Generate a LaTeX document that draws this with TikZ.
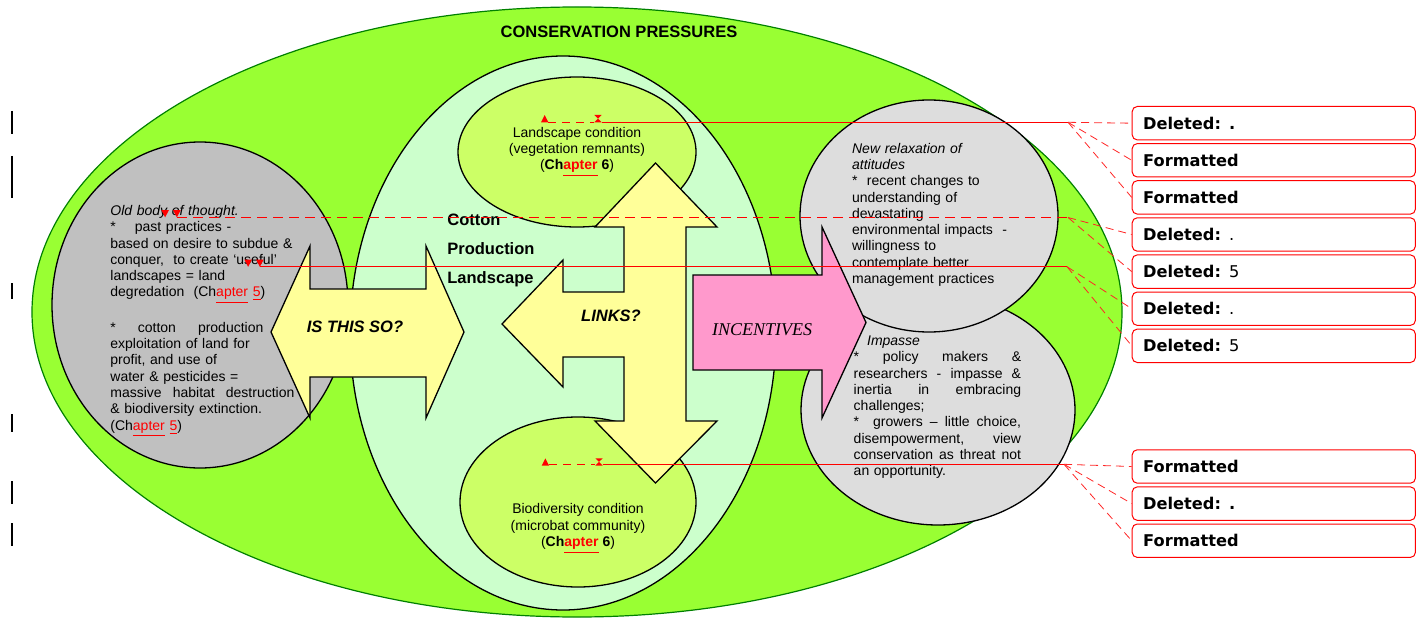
\documentclass[tikz,border=0pt]{standalone}
\usepackage{fontspec}
\setmainfont{Liberation Sans}
\newfontfamily\incfont{Liberation Serif}
\newfontfamily\tagfont{DejaVu Sans}
\usetikzlibrary{
    positioning, % For the stacked comment boxes
    calc
}

\definecolor{outergreen}{RGB}{153,255,51}
\definecolor{rimgreen}{RGB}{0,128,0}
\definecolor{oldgray}{RGB}{192,192,192}
\definecolor{newgray}{RGB}{221,221,221}
\definecolor{mint}{RGB}{204,255,204}
\definecolor{lime}{RGB}{204,255,102}
\definecolor{paleyellow}{RGB}{255,255,153}
\definecolor{pinkfill}{RGB}{255,153,204}
\definecolor{trackred}{RGB}{255,0,0}

\newcommand{\chref}[1]{\textcolor{red}{\underline{#1}}} % red chapter link
\newcommand{\jline}[2]{\makebox[#1][s]{#2}}             % justified line
\newcommand{\topstrut}{\rule{0pt}{6pt}}

\begin{document}
\begin{tikzpicture}[
    x=0.5pt, y=-0.5pt,
    outline/.style={draw=black, line width=0.65pt},     % Black rims
    arrowbody/.style={outline, fill=paleyellow},         % Yellow block arrows
    bodytext/.style={inner sep=0pt, font=\fontsize{7}{8.15}\selectfont},
    headtext/.style={inner sep=0pt, anchor=base, font=\bfseries\itshape\fontsize{8.25}{10}\selectfont},
    tagbox/.style={draw=red, line width=0.5pt, rounded corners=2.5pt, fill=white,
        text width=130.6pt, inner xsep=5.5pt, inner ysep=0pt, minimum height=16.7pt,
        align=left, font=\tagfont\fontsize{8.1}{9.5}\selectfont},
    trackline/.style={draw=trackred, line width=0.5pt},  % Solid change line
    trackdash/.style={draw=trackred, line width=0.9pt, dash pattern=on 5pt off 3pt},
    fanline/.style={draw=red!85, line width=0.4pt, dash pattern=on 4pt off 2.5pt},
    node distance=1.35pt
]
    \useasboundingbox (0,0) rectangle (1416,620);

    % Change bars in the margin
    \foreach \a/\b in {111/134, 156/198, 283/299, 414/432, 481/504, 523/546}
        \draw[line width=1pt] (12,\a) -- (12,\b);

    % Outer ellipse
    \draw[draw=rimgreen, fill=outergreen, line width=0.6pt] (577,312) ellipse [x radius=545, y radius=305];
    \node[inner sep=0pt, anchor=base, font=\bfseries\fontsize{8.25}{10}\selectfont] (title) at (619,37.7) {CONSERVATION PRESSURES};

    % Inner ellipses
    \draw[outline, fill=oldgray] (200,305) ellipse [x radius=148, y radius=163];
    \draw[outline, fill=mint] (563,333) ellipse [x radius=213, y radius=277];
    \draw[outline, fill=lime] (577,152) ellipse [x radius=119, y radius=75];
    \draw[outline, fill=lime] (578,502) ellipse [x radius=118, y radius=85];
    \draw[outline, fill=newgray] (938,410) ellipse [x radius=137, y radius=115];
    \draw[outline, fill=newgray] (929,216) ellipse [x radius=129, y radius=116];

    % Block arrows
    \draw[arrowbody] (271,332) -- (310,246) -- (310,289) -- (426,289) -- (426,246) -- (464,332)
        -- (426,418) -- (426,377) -- (310,377) -- (310,418) -- cycle;
    \draw[arrowbody] (655.5,163) -- (717,227) -- (686,227) -- (686,421) -- (717,421) -- (655.5,483)
        -- (595,421) -- (624,421) -- (624,357) -- (563,357) -- (563,387) -- (502,324)
        -- (563,260) -- (563,292) -- (624,292) -- (624,227) -- (595,227) -- cycle;
    \draw[outline, fill=pinkfill] (693,275) -- (822,275) -- (822,227) -- (866,322.5)
        -- (822,418) -- (822,370) -- (693,370) -- cycle;

    \node[headtext] (isthisso) at (355,332) {IS THIS SO?};
    \node[headtext] (links) at (611,321.7) {LINKS?};
    \node[inner sep=0pt, anchor=base, font=\incfont\itshape\fontsize{9}{11}\selectfont] (incentives) at (762,335) {INCENTIVES};
    \node[inner sep=0pt, anchor=north west, align=left, font=\bfseries\fontsize{8.25}{14.5}\selectfont] (cpl) at (447,211)
        {\rule{0pt}{7pt}Cotton\\Production\\Landscape};

    % Text of the ellipses
    \node[bodytext, anchor=north west, text width=100pt, align=left] (oldtext) at (110,203) {\topstrut
        \textit{Old body of thought.}\\
        {*}\hspace{9.5pt}past practices -\\
        based on desire to subdue \&\\
        conquer,\ \ to create ‘useful’\\
        landscapes = land\\
        degredation\ \ (Ch\chref{apter} \chref{5})\\[8.15pt]
        \jline{76.5pt}{*\hfill cotton\hfill production}\\
        exploitation of land for\\
        profit, and use of\\
        water \& pesticides =\\
        \jline{92pt}{massive\hfill habitat\hfill destruction}\\
        \& biodiversity extinction.\\
        (Ch\chref{apter} \chref{5})};

    \node[bodytext, anchor=north, align=center] (landcond) at (577,124.7) {\topstrut
        Landscape condition\\(vegetation remnants)\\(\textbf{Ch\chref{apter} 6})};
    \node[bodytext, anchor=north, align=center] (biocond) at (578,501.3) {\topstrut
        Biodiversity condition\\(microbat community)\\(\textbf{Ch\chref{apter} 6})};

    \node[bodytext, anchor=north west, text width=100pt, align=left] (newtext) at (851.7,140.7) {\topstrut
        \textit{New relaxation of}\\
        \textit{attitudes}\\
        {*}\ \ recent changes to\\
        understanding of\\
        devastating\\
        environmental impacts\ \ -\\
        willingness to\\
        contemplate better\\
        management practices};

    \node[bodytext, anchor=north west, text width=83.7pt, align=left] (impasse) at (853.3,333) {\topstrut
        \hspace*{6.7pt}\textit{Impasse}\\
        \jline{83.7pt}{*\hfill policy\hfill makers\hfill \&}\\
        \jline{83.7pt}{researchers\hfill -\hfill impasse\hfill \&}\\
        \jline{83.7pt}{inertia\hfill in\hfill embracing}\\
        challenges;\\
        \jline{83.7pt}{*\hspace{7pt}growers\hfill --\hfill little\hfill choice,}\\
        \jline{83.7pt}{disempowerment,\hfill view}\\
        \jline{83.7pt}{conservation\hfill as\hfill threat\hfill not}\\
        an opportunity.};

    % Change marks
    \foreach \x in {161.3,173}
        \fill[trackred] (\x,210) -- ++(7.7,0) -- ++(-3.85,7.3) -- cycle;
    \foreach \x in {244.3,256}
        \fill[trackred] (\x,259.5) -- ++(7.7,0) -- ++(-3.85,7.3) -- cycle;
    \foreach \x/\y in {541/122.3, 541.7/465.7}
        \fill[trackred] (\x,\y) -- ++(7.4,0) -- ++(-3.7,-7.3) -- cycle;
    \foreach \x/\y in {594.3/115, 595.3/458.3}
        \fill[trackred] (\x,\y) -- ++(7.4,0) -- ++(-3.7,3.65) -- ++(3.7,3.65) -- ++(-7.4,0) -- ++(3.7,-3.65) -- cycle;

    \coordinate (landA) at (548.4,122.3);
    \coordinate (landB) at (594.3,122.3);
    \coordinate (landC) at (601.7,122.3);
    \coordinate (landJ) at (1068,122.3);
    \coordinate (oldA) at (177,217.5);
    \coordinate (oldJ) at (1068,217.5);
    \coordinate (usefulA) at (260,266.7);
    \coordinate (usefulJ) at (1067,266.7);
    \coordinate (bioA) at (549,464.3);
    \coordinate (bioB) at (595.3,464.3);
    \coordinate (bioC) at (602.7,464.3);
    \coordinate (bioJ) at (1064,464.3);

    \draw[trackline, dash pattern=on 4pt off 3pt] (landA) -- (landB);
    \draw[trackline] (landC) -- (landJ);
    \draw[trackdash] (oldA) -- (oldJ);
    \draw[trackline] (usefulA) -- (usefulJ);
    \draw[trackline, dash pattern=on 4pt off 3pt] (bioA) -- (bioB);
    \draw[trackline] (bioC) -- (bioJ);

    % Comment boxes
    \node[tagbox, anchor=north west] (b1) at (1131.7,106) {\textbf{Deleted: .}};
    \node[tagbox, below=of b1] (b2) {\textbf{Formatted}};
    \node[tagbox, below=of b2] (b3) {\textbf{Formatted}};
    \node[tagbox, below=of b3] (b4) {\textbf{Deleted:} .};
    \node[tagbox, below=of b4] (b5) {\textbf{Deleted:} 5};
    \node[tagbox, below=of b5] (b6) {\textbf{Deleted:} .};
    \node[tagbox, below=of b6] (b7) {\textbf{Deleted:} 5};
    \node[tagbox, anchor=north west] (b8) at (1131.7,449.3) {\textbf{Formatted}};
    \node[tagbox, below=of b8] (b9) {\textbf{Deleted: .}};
    \node[tagbox, below=of b9] (b10) {\textbf{Formatted}};

    \foreach \b in {b1,b2,b3}
        \draw[fanline] (landJ) -- (\b.west);
    \foreach \b in {b4,b5}
        \draw[fanline] (oldJ) -- (\b.west);
    \foreach \b in {b6,b7}
        \draw[fanline] (usefulJ) -- (\b.west);
    \foreach \b in {b8,b9,b10}
        \draw[fanline] (bioJ) -- (\b.west);

\end{tikzpicture}
\end{document}
